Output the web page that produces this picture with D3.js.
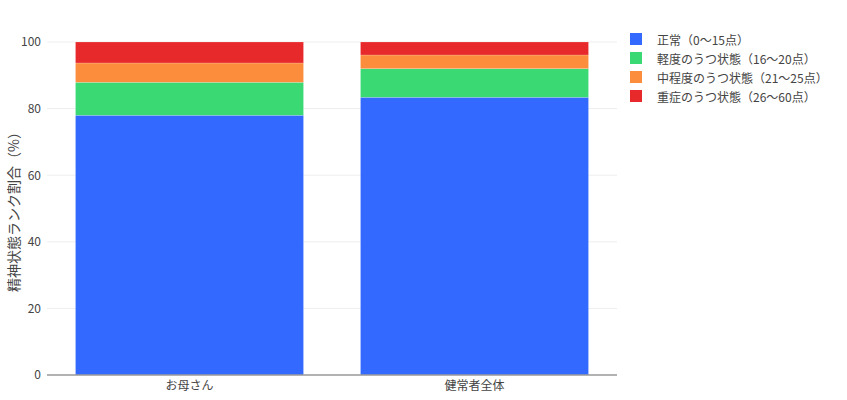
<!DOCTYPE html>
<html><head><meta charset="utf-8">
<script src="https://cdn.jsdelivr.net/npm/d3@7"></script>
<style>
body{margin:0;background:#fff;}
text{font-family:"Noto Sans CJK JP","Open Sans",sans-serif;}
</style></head>
<body>
<svg id="chart" width="847" height="400"></svg>
<script>
const categories = ["お母さん", "健常者全体"];
const seriesNames = ["正常（0〜15点）", "軽度のうつ状態（16〜20点）", "中程度のうつ状態（21〜25点）", "重症のうつ状態（26〜60点）"];
const normal = [78.0, 83.4];
const mild = [9.9, 8.6];
const moderate = [5.8, 4.1];
const severe = [6.3, 3.9];
const colors = ["#3469FF", "#3BD973", "#FC8D3D", "#E8292C"];
const yTicks = [0, 20, 40, 60, 80, 100];
const yTitle = "精神状態ランク割合（%）";

const svg = d3.select("#chart");
const m = {l: 47, r: 230, t: 42, b: 25};
const W = 847, H = 400;
const x = d3.scaleBand().domain(categories).range([m.l, 617]).paddingInner(0.2).paddingOuter(0.1);
const y = d3.scaleLinear().domain([0, 100]).range([375, 42]);

// gridlines
svg.append("g").selectAll("line").data(yTicks.filter(d => d > 0)).join("line")
  .attr("x1", m.l).attr("x2", 617).attr("y1", d => y(d)).attr("y2", d => y(d))
  .attr("stroke", "#eeeeee").attr("stroke-width", 1);

const seriesData = [normal, mild, moderate, severe];
const rows = categories.map((c, i) => {
  const o = {cat: c};
  seriesData.forEach((s, k) => o["s" + k] = s[i]);
  return o;
});
const stack = d3.stack().keys(seriesData.map((_, k) => "s" + k))(rows);

svg.append("g").selectAll("g").data(stack).join("g")
  .attr("fill", (d, k) => colors[k])
  .selectAll("rect").data(d => d).join("rect")
  .attr("x", d => x(d.data.cat))
  .attr("width", x.bandwidth())
  .attr("y", d => y(d[1]))
  .attr("height", d => y(d[0]) - y(d[1]))
  .attr("stroke", "rgba(255,255,255,0.35)").attr("stroke-width", 0.5);

// zero line
svg.append("line").attr("x1", m.l).attr("x2", 617).attr("y1", y(0)).attr("y2", y(0))
  .attr("stroke", "#999").attr("stroke-width", 1.5);

// y axis labels
const yAxis = d3.axisLeft(y).tickValues(yTicks).tickSize(0).tickPadding(6);
const ga = svg.append("g").attr("transform", `translate(${m.l},0)`).call(yAxis);
ga.select(".domain").remove();
ga.selectAll("text").attr("fill", "#444").attr("font-size", 12);

// x axis labels
const xAxis = d3.axisBottom(x).tickSize(0).tickPadding(6);
const gx = svg.append("g").attr("transform", `translate(0,${y(0)})`).call(xAxis);
gx.select(".domain").remove();
gx.selectAll("text").attr("fill", "#444").attr("font-size", 12);

// y title
svg.append("text").attr("transform", `translate(13,${(42 + 375) / 2}) rotate(-90)`)
  .attr("text-anchor", "middle").attr("dominant-baseline", "central")
  .attr("fill", "#444").attr("font-size", 14).text(yTitle);

// legend
const lg = svg.append("g").attr("transform", "translate(630,39)");
seriesNames.forEach((n, k) => {
  const g = lg.append("g").attr("transform", `translate(0,${k * 19})`);
  g.append("rect").attr("x", 0).attr("y", -6).attr("width", 12).attr("height", 12).attr("fill", colors[k]);
  g.append("text").attr("x", 27).attr("y", 0).attr("dominant-baseline", "central")
    .attr("fill", "#444").attr("font-size", 12).text(n);
});
</script>
</body></html>
